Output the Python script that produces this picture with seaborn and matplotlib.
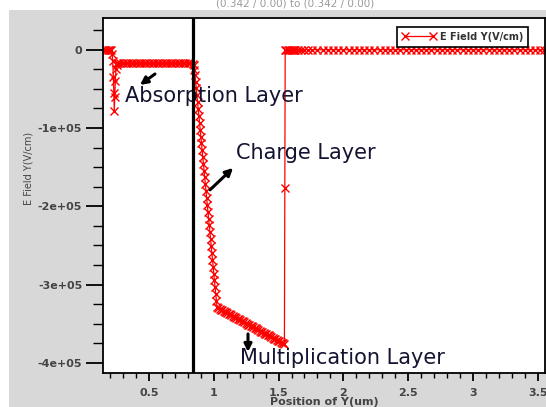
import numpy as np
import pandas as pd
import matplotlib
matplotlib.use("Agg")
import matplotlib.pyplot as plt
from matplotlib.patches import Rectangle
from matplotlib.ticker import MultipleLocator
import seaborn as sns

# ---------------- data ----------------
# contact region (zero field) and absorption-layer spike
left_x = [0.150, 0.160, 0.170, 0.180, 0.190, 0.200, 0.210, 0.215, 0.220, 0.225,
          0.228, 0.232, 0.236, 0.240, 0.245, 0.250, 0.255]
left_y = [0, 0, 0, 0, 0, 0, 0, -5000, -15000, -35000,
          -55000, -78000, -60000, -40000, -25000, -19000, -17500]

# absorption layer plateau
absorb_x = [0.26, 0.28, 0.30, 0.32, 0.34, 0.36, 0.38, 0.40, 0.42, 0.44, 0.46,
            0.48, 0.50, 0.52, 0.54, 0.56, 0.58, 0.60, 0.62, 0.64, 0.66, 0.68,
            0.70, 0.72, 0.74, 0.76, 0.78, 0.80, 0.82, 0.84]
absorb_y = [-17500, -17500, -17500, -17500, -17500, -17500, -17500, -17500,
            -17500, -17500, -17500, -17500, -17500, -17500, -17500, -17500,
            -17500, -17500, -17500, -17500, -17500, -17500, -17500, -17500,
            -17500, -17500, -17500, -17500, -17500, -18000]

# charge layer
charge_x = [0.845, 0.850, 0.855, 0.860, 0.865, 0.870, 0.875, 0.880, 0.885, 0.890,
            0.895, 0.900, 0.905, 0.910, 0.915, 0.920, 0.925, 0.930, 0.935, 0.940,
            0.945, 0.950, 0.955, 0.960, 0.965, 0.970, 0.975, 0.980, 0.985, 0.990,
            0.995, 1.000, 1.005, 1.010, 1.015, 1.020, 1.025]
charge_y = [-20000, -26000, -32000, -41000, -49500, -58000, -67000, -76000,
            -84500, -93000, -102000, -111000, -119500, -128000, -137000, -146000,
            -154500, -163000, -172000, -181000, -189500, -198000, -207000, -216000,
            -224500, -233000, -242000, -251000, -259500, -268000, -277000, -286000,
            -294500, -303000, -312000, -321000, -329000]

# multiplication layer
mult_x = [1.035, 1.045, 1.055, 1.065, 1.075, 1.085, 1.095, 1.105, 1.115, 1.125,
          1.135, 1.145, 1.155, 1.165, 1.175, 1.185, 1.195, 1.205, 1.215, 1.225,
          1.235, 1.245, 1.255, 1.265, 1.275, 1.285, 1.295, 1.305, 1.315, 1.325,
          1.335, 1.345, 1.355, 1.365, 1.375, 1.385, 1.395, 1.405, 1.415, 1.425,
          1.435, 1.445, 1.455, 1.465, 1.475, 1.485, 1.495, 1.505, 1.515, 1.525,
          1.535, 1.545]
mult_y = [-330000, -331000, -332000, -333000, -334000, -334500, -335500, -336500,
          -337500, -338000, -339000, -340000, -341000, -342000, -343000, -343500,
          -344500, -345500, -346500, -347000, -348000, -349000, -350000, -351000,
          -352000, -352500, -353500, -354500, -355500, -356000, -357000, -358000,
          -359000, -360000, -361000, -361500, -362500, -363500, -364500, -365000,
          -366000, -367000, -368000, -369000, -370000, -370500, -371500, -372500,
          -373500, -374000, -375000, -376000]

# return to zero and contact region
right_x = [1.548, 1.551, 1.56, 1.57, 1.58, 1.59, 1.60, 1.61, 1.62, 1.63, 1.65,
           1.67, 1.70, 1.73, 1.76, 1.80, 1.84, 1.88, 1.92, 1.96, 2.00, 2.04,
           2.08, 2.12, 2.16, 2.20, 2.24, 2.28, 2.32, 2.36, 2.40, 2.44, 2.48,
           2.52, 2.56, 2.60, 2.64, 2.68, 2.72, 2.76, 2.80, 2.84, 2.88, 2.92,
           2.96, 3.00, 3.04, 3.08, 3.12, 3.16, 3.20, 3.24, 3.28, 3.32, 3.36,
           3.40, 3.44, 3.48, 3.52, 3.55]
right_y = [-177000, 0, 0, 0, 0, 0, 0, 0, 0, 0, 0,
           0, 0, 0, 0, 0, 0, 0, 0, 0, 0, 0,
           0, 0, 0, 0, 0, 0, 0, 0, 0, 0, 0,
           0, 0, 0, 0, 0, 0, 0, 0, 0, 0, 0,
           0, 0, 0, 0, 0, 0, 0, 0, 0, 0, 0,
           0, 0, 0, 0, 0]

boundary_x = 0.84
y_ticks = [0, -100000, -200000, -300000, -400000]
y_tick_labels = ["0", "-1e+05", "-2e+05", "-3e+05", "-4e+05"]
x_ticks = [0.5, 1.0, 1.5, 2.0, 2.5, 3.0, 3.5]
x_tick_labels = ["0.5", "1", "1.5", "2", "2.5", "3", "3.5"]

df = pd.DataFrame({
    "pos": left_x + absorb_x + charge_x + mult_x + right_x,
    "field": left_y + absorb_y + charge_y + mult_y + right_y,
})

# ---------------- figure ----------------
sns.set_style("white")
plt.rcParams["font.family"] = ["DejaVu Sans"]

fig = plt.figure(figsize=(5.46, 4.07), dpi=100)
fig.patch.set_facecolor("white")
fig.patches.append(Rectangle((9 / 546, 0), 1, 1 - 10 / 407, transform=fig.transFigure,
                             facecolor="#d8d8d8", edgecolor="none", zorder=-10))
fig.text(0.54, 1 - 4 / 407, "(0.342 / 0.00) to (0.342 / 0.00)", ha="center", va="center",
         fontsize=7.5, color="#9a9a9a")

ax = fig.add_axes([103 / 546, 1 - 373 / 407, 442 / 546, 355 / 407])
ax.set_facecolor("white")

sns.lineplot(data=df, x="pos", y="field", ax=ax, sort=False, estimator=None,
             color="red", linewidth=0.9, marker="x", markersize=5.5,
             markeredgewidth=1.0, markeredgecolor="red", label="E Field Y(V/cm)")

ax.axvline(boundary_x, color="black", linewidth=2.3, zorder=5)

ax.set_xlim(0.145, 3.556)
ax.set_ylim(-412900, 40500)

ax.set_yticks(y_ticks)
ax.set_yticklabels(y_tick_labels)
ax.set_xticks(x_ticks)
ax.set_xticklabels(x_tick_labels)
ax.yaxis.set_minor_locator(MultipleLocator(25000))
ax.xaxis.set_minor_locator(MultipleLocator(0.1))

ax.tick_params(axis="y", which="major", direction="out", length=12, width=1.3,
               color="black", labelsize=8, labelcolor="#444444", pad=3, left=True)
ax.tick_params(axis="y", which="minor", direction="out", length=7, width=1.0,
               color="black", left=True)
ax.tick_params(axis="x", which="major", direction="out", length=6, width=1.3,
               color="black", labelsize=8, labelcolor="#444444", pad=5, bottom=True)
ax.tick_params(axis="x", which="minor", direction="out", length=3.5, width=1.0,
               color="black", bottom=True)
for lab in ax.get_xticklabels() + ax.get_yticklabels():
    lab.set_fontweight("bold")

for s in ax.spines.values():
    s.set_color("black")
    s.set_linewidth(1.3)

ax.set_xlabel("Position of Y(um)", fontsize=8, fontweight="bold", color="#444444")
ax.set_ylabel("E Field Y(V/cm)", fontsize=7, color="#444444")
ax.xaxis.set_label_coords(0.5, -0.068)
ax.yaxis.set_label_coords(-0.157, 0.575)

leg = ax.legend(loc="upper right", bbox_to_anchor=(0.962, 0.975), borderaxespad=0,
                fancybox=False, framealpha=1, edgecolor="black", numpoints=2,
                handlelength=3.5, handletextpad=0.4, borderpad=0.5,
                prop={"size": 7, "weight": "bold"})
leg.get_frame().set_linewidth(1.2)
for t in leg.get_texts():
    t.set_color("#333333")

txt_color = "#141432"
arrow = dict(arrowstyle="-|>", color="black", lw=2.2, mutation_scale=11,
             shrinkA=0, shrinkB=0)
ax.annotate("", xy=(0.43, -45000), xytext=(0.546, -31000), arrowprops=arrow)
ax.text(0.315, -59000, "Absorption Layer", fontsize=15, color=txt_color, va="center", ha="left")
ax.annotate("", xy=(1.149, -151000), xytext=(0.971, -179000), arrowprops=arrow)
ax.text(1.171, -132000, "Charge Layer", fontsize=15, color=txt_color, va="center", ha="left")
ax.annotate("", xy=(1.264, -386000), xytext=(1.264, -363000), arrowprops=arrow)
ax.text(1.202, -394000, "Multiplication Layer", fontsize=15, color=txt_color, va="center", ha="left")

fig.savefig("out.png", dpi=100, facecolor=fig.get_facecolor())
